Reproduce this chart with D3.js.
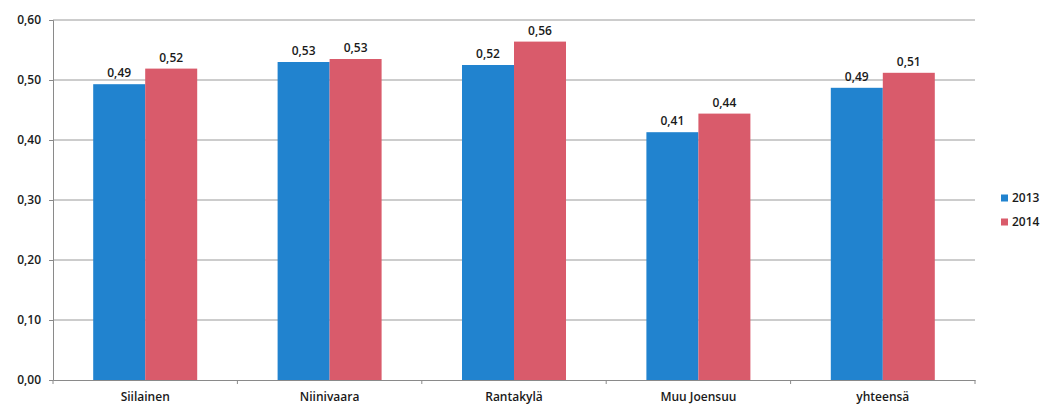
<!DOCTYPE html>
<html><head><meta charset="utf-8">
<script src="https://cdn.jsdelivr.net/npm/d3@7"></script>
<style>body{margin:0;background:#fff}svg{display:block}text{font-family:"Open Sans",sans-serif;fill:#1a1a1a}</style>
</head><body><svg id="c" width="1051" height="405"></svg>
<script>
const categories = ["Siilainen","Niinivaara","Rantakylä","Muu Joensuu","yhteensä"];
const series = ["2013","2014"];
const values2013 = [0.493,0.530,0.525,0.413,0.487];
const values2014 = [0.519,0.535,0.564,0.444,0.512];
const labels2013 = ["0,49","0,53","0,52","0,41","0,49"];
const labels2014 = ["0,52","0,53","0,56","0,44","0,51"];
const yTicks = [0,0.1,0.2,0.3,0.4,0.5,0.6];
const colors = ["#2183cf","#d95b6b"];

(function(){
const svg = d3.select("#c");
const pl=53, pr=975, pt=20, pb=380;
const x = d3.scaleBand().domain(categories).range([pl,pr]).paddingInner(0).paddingOuter(0);
const y = d3.scaleLinear().domain([0,0.6]).range([pb,pt]);
const xs = d3.scaleBand().domain(series).range([0,104]);
const fmt = d => d.toFixed(2).replace(".",",");

svg.append("g").selectAll("line").data(yTicks.filter(d=>d>0)).join("line")
  .attr("x1",pl).attr("x2",pr).attr("y1",d=>y(d)).attr("y2",d=>y(d))
  .attr("stroke","#9a9a9a").attr("stroke-width",1);

const ya = svg.append("g").attr("transform",`translate(${pl},0)`).call(d3.axisLeft(y).tickValues(yTicks).tickFormat(fmt).tickSize(4).tickPadding(8));
ya.select(".domain").attr("stroke","#8a8a8a");
ya.selectAll(".tick line").attr("stroke","#8a8a8a");
ya.selectAll("text").attr("font-size",12).attr("font-weight",600).style("font-family","Open Sans").attr("fill","#1a1a1a");

const data = categories.map((c,i)=>({c, v:[values2013[i],values2014[i]], l:[labels2013[i],labels2014[i]]}));
const g = svg.append("g").selectAll("g").data(data).join("g")
  .attr("transform",d=>`translate(${x(d.c)+x.bandwidth()/2-52},0)`);
g.selectAll("rect").data(d=>d.v.map((v,k)=>({s:series[k],v,k}))).join("rect")
  .attr("x",d=>xs(d.s)).attr("width",xs.bandwidth()).attr("y",d=>y(d.v)).attr("height",d=>y(0)-y(d.v))
  .attr("fill",d=>colors[d.k]);
g.selectAll("text").data(d=>d.v.map((v,k)=>({s:series[k],v,l:d.l[k]}))).join("text")
  .attr("x",d=>xs(d.s)+xs.bandwidth()/2).attr("y",d=>y(d.v)-7)
  .attr("text-anchor","middle").attr("font-size",12).attr("font-weight",600).text(d=>d.l);

const xa = svg.append("g").attr("transform",`translate(0,${pb})`).call(d3.axisBottom(x).tickSize(0).tickPadding(12));
xa.select(".domain").attr("stroke","#8a8a8a");
xa.selectAll("text").attr("font-size",12).attr("font-weight",600).style("font-family","Open Sans").attr("fill","#1a1a1a");
svg.append("g").selectAll("line").data(d3.range(categories.length+1)).join("line")
  .attr("x1",i=>pl+i*x.bandwidth()).attr("x2",i=>pl+i*x.bandwidth())
  .attr("y1",pb).attr("y2",pb+4).attr("stroke","#8a8a8a");

const lg = svg.append("g").selectAll("g").data(series).join("g")
  .attr("transform",(d,i)=>`translate(1001,${198+i*24})`);
lg.append("rect").attr("x",0).attr("y",-3.5).attr("width",7).attr("height",7).attr("fill",(d,i)=>colors[i]);
lg.append("text").attr("x",11).attr("y",0).attr("dy","0.35em").attr("font-size",12).attr("font-weight",600).text(d=>d);
})();
</script></body></html>
